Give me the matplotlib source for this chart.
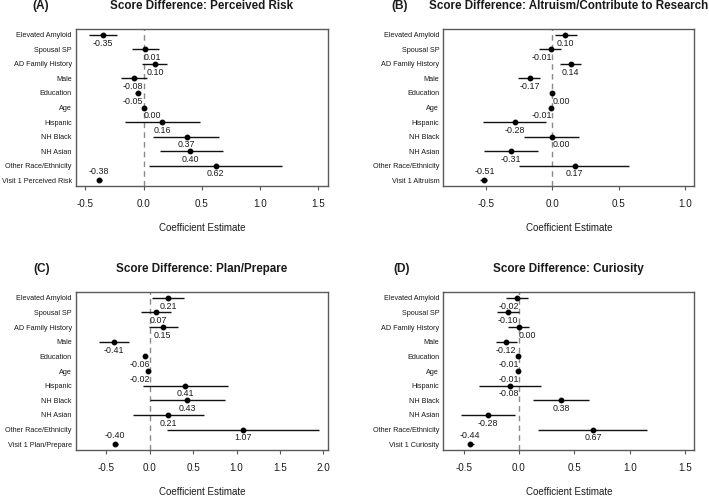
import matplotlib
matplotlib.use("Agg")
import matplotlib.pyplot as plt
import numpy as np

plt.rcParams['font.family'] = ['Liberation Sans', 'DejaVu Sans']

predictors = ["Elevated Amyloid", "Spousal SP", "AD Family History", "Male",
              "Education", "Age", "Hispanic", "NH Black", "NH Asian",
              "Other Race/Ethnicity"]

# Panel A: Perceived Risk
est_A = [-0.35, 0.01, 0.10, -0.08, -0.05, 0.00, 0.16, 0.37, 0.40, 0.62, -0.38]
lo_A = [-0.47, -0.10, -0.01, -0.19, -0.07, -0.01, -0.16, 0.08, 0.14, 0.05, -0.40]
hi_A = [-0.23, 0.13, 0.20, 0.03, -0.03, 0.01, 0.48, 0.65, 0.68, 1.19, -0.36]

# Panel B: Altruism
est_B = [0.10, -0.01, 0.14, -0.17, 0.00, -0.01, -0.28, 0.00, -0.31, 0.17, -0.51]
lo_B = [0.02, -0.10, 0.06, -0.26, -0.01, -0.02, -0.52, -0.21, -0.51, -0.25, -0.54]
hi_B = [0.19, 0.07, 0.22, -0.09, 0.01, 0.00, -0.05, 0.20, -0.11, 0.58, -0.49]

# Panel C: Plan/Prepare
est_C = [0.21, 0.07, 0.15, -0.41, -0.06, -0.02, 0.41, 0.43, 0.21, 1.07, -0.40]
lo_C = [0.03, -0.10, -0.01, -0.58, -0.08, -0.03, -0.08, 0.00, -0.19, 0.20, -0.42]
hi_C = [0.39, 0.24, 0.32, -0.24, -0.04, -0.01, 0.90, 0.87, 0.63, 1.95, -0.37]

# Panel D: Curiosity
est_D = [-0.02, -0.10, 0.00, -0.12, -0.01, -0.01, -0.08, 0.38, -0.28, 0.67, -0.44]
lo_D = [-0.12, -0.20, -0.10, -0.21, -0.02, -0.02, -0.36, 0.13, -0.52, 0.17, -0.46]
hi_D = [0.08, 0.00, 0.09, -0.02, 0.00, 0.00, 0.20, 0.63, -0.04, 1.16, -0.41]

panels = [
    dict(tag="(A)", title="Score Difference: Perceived Risk", visit="Visit 1 Perceived Risk",
         est=est_A, lo=lo_A, hi=hi_A, xlim=(-0.58, 1.58), ticks=[-0.5, 0.0, 0.5, 1.0, 1.5],
         rect=[76, 29, 327.7, 186], tagx=40.5),
    dict(tag="(B)", title="Score Difference: Altruism/Contribute to Research", visit="Visit 1 Altruism",
         est=est_B, lo=lo_B, hi=hi_B, xlim=(-0.82, 1.07), ticks=[-0.5, 0.0, 0.5, 1.0],
         rect=[443.3, 29, 694.3, 186], tagx=399.5),
    dict(tag="(C)", title="Score Difference: Plan/Prepare", visit="Visit 1 Plan/Prepare",
         est=est_C, lo=lo_C, hi=hi_C, xlim=(-0.85, 2.05), ticks=[-0.5, 0.0, 0.5, 1.0, 1.5, 2.0],
         rect=[76, 292, 327.7, 450], tagx=41.5),
    dict(tag="(D)", title="Score Difference: Curiosity", visit="Visit 1 Curiosity",
         est=est_D, lo=lo_D, hi=hi_D, xlim=(-0.684, 1.584), ticks=[-0.5, 0.0, 0.5, 1.0, 1.5],
         rect=[443.3, 292, 694.3, 450], tagx=401.5),
]

W, H = 709, 496
fig = plt.figure(figsize=(W / 100, H / 100), dpi=100)
frame_col = "#5a5a5a"
txt_col = "#1a1a1a"

axes = []
for p in panels:
    l, t, r, b = p["rect"]
    ax = fig.add_axes([l / W, 1 - b / H, (r - l) / W, (b - t) / H])
    axes.append(ax)
    labels = predictors + [p["visit"]]
    n = len(labels)
    ypos = np.arange(n, 0, -1)
    est = np.array(p["est"]); lo = np.array(p["lo"]); hi = np.array(p["hi"])
    ax.axvline(0, color="#8a8a8a", lw=1.0, ls=(0, (4, 3)), zorder=1)
    ax.hlines(ypos, lo, hi, color="#111111", lw=1.0, zorder=2)
    ax.plot(est, ypos, "o", color="#000000", ms=3.2, zorder=3)
    ax.set_xlim(*p["xlim"])
    ax.set_ylim(0.6, n + 0.4)
    ax.set_yticks(ypos)
    ax.set_yticklabels(labels, fontsize=5.2, color=txt_col)
    ax.tick_params(axis="y", length=0, pad=3)
    ax.set_xticks(p["ticks"])
    ax.set_xticklabels([f"{v:.1f}" for v in p["ticks"]], fontsize=7.1, color=txt_col)
    ax.tick_params(axis="x", length=3, width=0.8, color=frame_col, pad=6.3)
    for s in ax.spines.values():
        s.set_color(frame_col)
        s.set_linewidth(1.0)
    ax.annotate(p["title"], xy=(0.5, 1), xycoords="axes fraction", xytext=(0, 16.4),
                textcoords="offset points", ha="center", va="center",
                fontsize=8.4, fontweight="bold", color=txt_col)
    ax.annotate("Coefficient Estimate", xy=(0.5, 0), xycoords="axes fraction",
                xytext=(0, -42 * 0.72), textcoords="offset points", ha="center",
                va="center", fontsize=7.0, color=txt_col)
    fig.text(p["tagx"] / W, 1 - (t - 22.7) / H, p["tag"], ha="center", va="center",
             fontsize=8.6, fontweight="bold", color=txt_col)
    texts = []
    for i, (v, y) in enumerate(zip(est, ypos)):
        dy = 0.57 if i == n - 1 else -0.57
        tx = ax.text(v, y + dy, f"{v:.2f}", ha="center", va="center",
                     fontsize=6.4, color=txt_col, zorder=4)
        texts.append((tx, v))
    p["texts"] = texts

fig.canvas.draw()
renderer = fig.canvas.get_renderer()
for ax, p in zip(axes, panels):
    zero_px = ax.transData.transform((0, 0))[0]
    for tx, v in p["texts"]:
        bb = tx.get_window_extent(renderer)
        if bb.x0 < zero_px < bb.x1:
            if v >= 0 and not (f"{v:.2f}".startswith("-")):
                tx.set_ha("left")
            else:
                tx.set_ha("right")
            tx.set_x(0)

fig.savefig("out.png", dpi=100)
